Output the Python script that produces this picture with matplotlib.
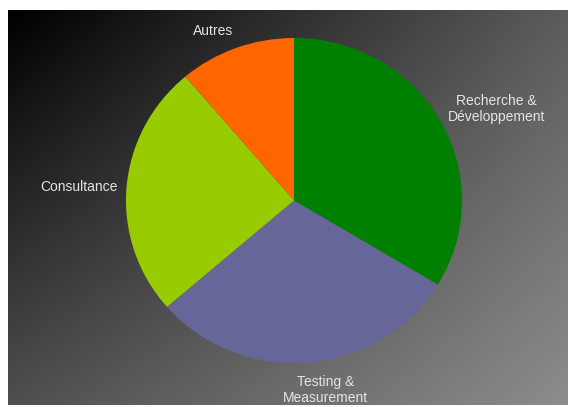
import numpy as np
import matplotlib.pyplot as plt

labels = ["Recherche &\nDéveloppement", "Testing &\nMeasurement", "Consultance", "Autres"]
shares = [33.7, 30.0, 25.2, 11.2]
colors = ["#008000", "#666699", "#99cc00", "#ff6600"]
# label placement: distance from centre (in radii) and angle nudge (deg)
label_dist = [1.33, 1.18, 1.28, 1.15]
label_shift = [-4.4, 4.3, 0.7, 4.7]

W, H = 576, 407
fig = plt.figure(figsize=(W / 100, H / 100), dpi=100)
fig.patch.set_facecolor("white")

# dark diagonal gradient background inside the white frame
bg = fig.add_axes([8 / W, 2 / H, 560 / W, 395 / H])
xs = np.linspace(0, 1, 300)
ys = np.linspace(0, 1, 220)
gx, gy = np.meshgrid(xs, ys)
grad = 0.36 * gx + 0.31 * gy - 0.12 * gx * gy
grad = np.clip(grad, 0, 1)
bg.imshow(grad, cmap="gray", vmin=0, vmax=1, aspect="auto", extent=[0, 1, 1, 0])
bg.set_axis_off()

# pie axes centred on the pie (slightly squashed vertically like the source)
cx, cy = 294, 407 - 200.5
rx, ry = 168, 162.5
lim = 1.4
ax = fig.add_axes([(cx - rx * lim) / W, (cy - ry * lim) / H,
                   2 * rx * lim / W, 2 * ry * lim / H])
wedges, texts = ax.pie(shares, colors=colors, startangle=90, counterclock=False,
                       labels=labels, wedgeprops=dict(linewidth=0),
                       textprops=dict(color="#e4e4e4", fontsize=10,
                                      family=["Liberation Sans", "DejaVu Sans"]))
for w, t, d, s in zip(wedges, texts, label_dist, label_shift):
    ang = np.deg2rad((w.theta1 + w.theta2) / 2 + s)
    t.set_position((d * np.cos(ang), d * np.sin(ang)))
    t.set_ha("center")
    t.set_va("center")
    t.set_multialignment("center")
    t.set_linespacing(1.2)
    t.set_clip_on(False)
ax.set_xlim(-lim, lim)
ax.set_ylim(-lim, lim)
ax.set_aspect("auto")
ax.set_axis_off()

fig.savefig("out.png", dpi=100, facecolor=fig.get_facecolor())
